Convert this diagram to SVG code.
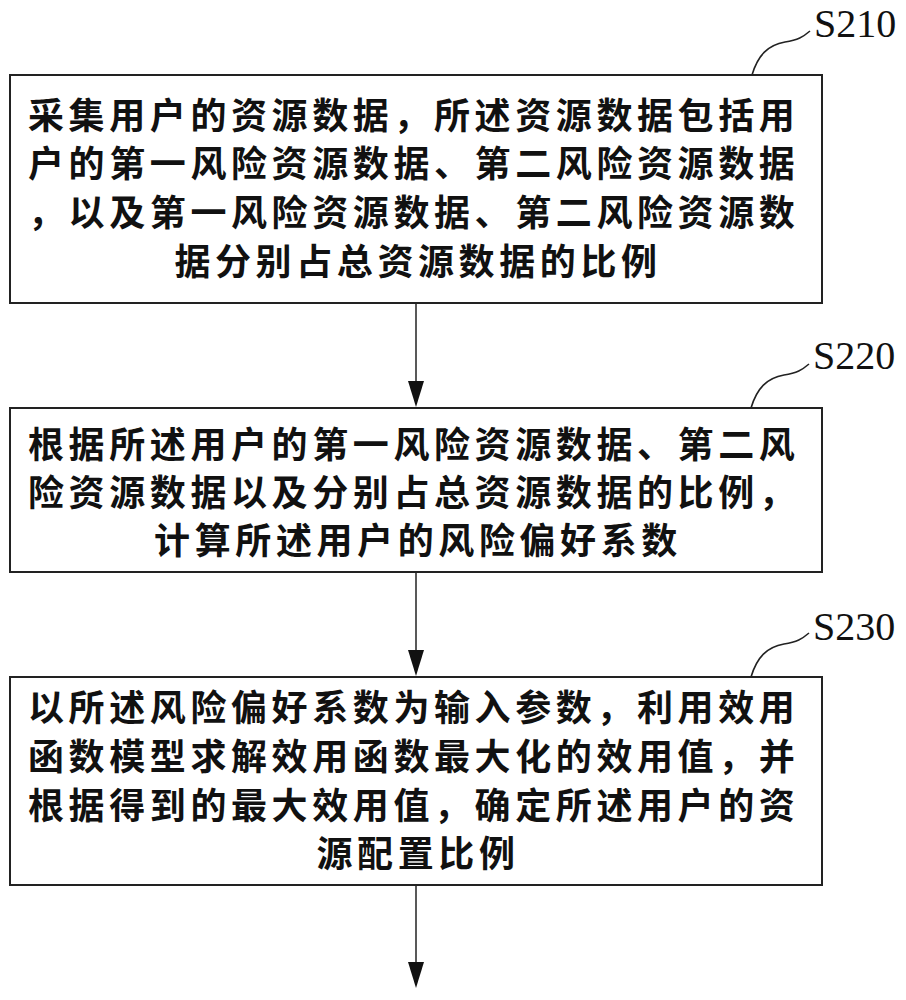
<svg xmlns="http://www.w3.org/2000/svg" width="906" height="1000" viewBox="0 0 906 1000">
<style>
.box{fill:#fff;stroke:#222;stroke-width:2}
.t{font-family:"Noto Sans CJK SC","Noto Sans CJK TC",sans-serif;font-size:36px;font-weight:bold;letter-spacing:4.6px;fill:#111}
.c{text-anchor:middle}
.lbl{font-family:"Liberation Serif","Times New Roman",serif;font-size:40px;fill:#111}
.lead{fill:none;stroke:#222;stroke-width:1.6}
.conn{stroke:#222;stroke-width:1.5;fill:none}
</style>
<g id="connectors">
<line class="conn" x1="416" y1="303" x2="416" y2="382"/>
<path d="M408,381 L424,381 L416,407 Z" fill="#111"/>
<line class="conn" x1="416" y1="572" x2="416" y2="651"/>
<path d="M408,650 L424,650 L416,676 Z" fill="#111"/>
<line class="conn" x1="416" y1="885" x2="416" y2="963"/>
<path d="M408,962 L424,962 L416,988 Z" fill="#111"/>
</g>
<g id="S210">
<rect class="box" x="10" y="75" width="812" height="228"/>
<text class="t" x="28" y="129">采集用户的资源数据，所述资源数据包括用</text>
<text class="t" x="28" y="177">户的第一风险资源数据、第二风险资源数据</text>
<text class="t" x="28" y="226">，以及第一风险资源数据、第二风险资源数</text>
<text class="t c" x="418" y="275">据分别占总资源数据的比例</text>
<path class="lead" d="M752,75 C758,55 768,45 785,42 C798,40 803,37 810,31"/>
<text class="lbl" x="814" y="37">S210</text>
</g>
<g id="S220">
<rect class="box" x="10" y="408" width="812" height="164"/>
<text class="t" x="28" y="458">根据所述用户的第一风险资源数据、第二风</text>
<text class="t" x="28" y="506">险资源数据以及分别占总资源数据的比例，</text>
<text class="t c" x="418" y="554">计算所述用户的风险偏好系数</text>
<path class="lead" d="M751,408 C757,388 767,378 784,375 C797,373 802,370 809,364"/>
<text class="lbl" x="813" y="369">S220</text>
</g>
<g id="S230">
<rect class="box" x="10" y="677" width="812" height="208"/>
<text class="t" x="28" y="721">以所述风险偏好系数为输入参数，利用效用</text>
<text class="t" x="28" y="770">函数模型求解效用函数最大化的效用值，并</text>
<text class="t" x="28" y="819">根据得到的最大效用值，确定所述用户的资</text>
<text class="t c" x="418" y="867">源配置比例</text>
<path class="lead" d="M751,677 C757,657 767,647 784,644 C797,642 802,639 809,633"/>
<text class="lbl" x="813" y="640">S230</text>
</g>
</svg>
